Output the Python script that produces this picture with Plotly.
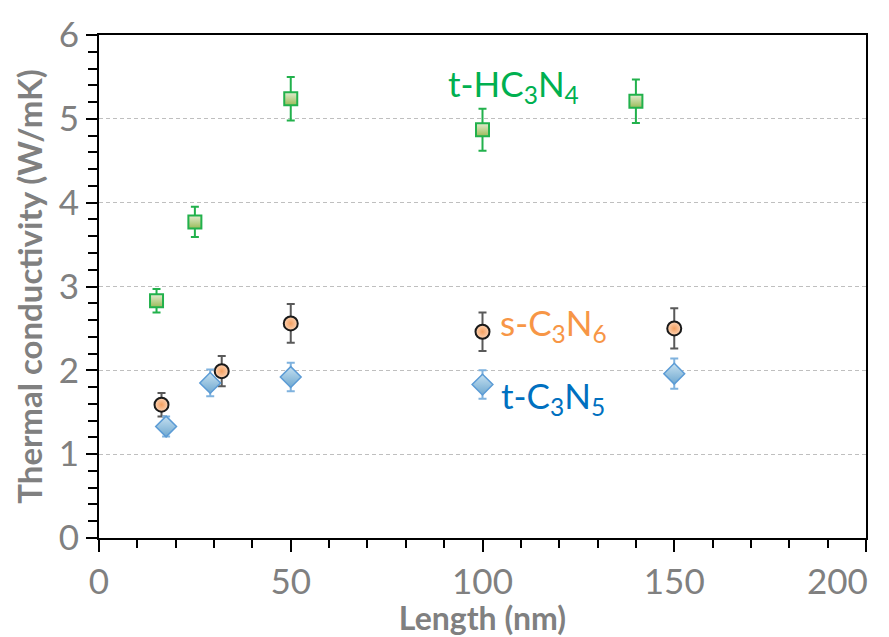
import plotly.graph_objects as go

# t-HC3N4 (green squares)
hc_x = [15, 25, 50, 100, 140]
hc_y = [2.83, 3.77, 5.24, 4.87, 5.21]
hc_err = [0.14, 0.18, 0.26, 0.25, 0.26]

# s-C3N6 (orange circles)
s_x = [16.3, 32, 50, 100, 150]
s_y = [1.59, 1.99, 2.56, 2.46, 2.50]
s_err = [0.14, 0.18, 0.23, 0.23, 0.24]

# t-C3N5 (blue diamonds)
t_x = [17.5, 29, 50, 100, 150]
t_y = [1.33, 1.85, 1.92, 1.83, 1.96]
t_err = [0.12, 0.16, 0.17, 0.17, 0.18]

labels = ["t-HC<sub>3</sub>N<sub>4</sub>", "s-C<sub>3</sub>N<sub>6</sub>", "t-C<sub>3</sub>N<sub>5</sub>"]
label_x = [108, 118.5, 118.5]
label_y = [5.40, 2.55, 1.68]
label_colors = ["#00B050", "#F79646", "#0070C0"]

x_ticks = [0, 50, 100, 150, 200]
x_ticktext = ["0", "50", "100", "150", ""]
y_ticks = [0, 1, 2, 3, 4, 5, 6]

FONT = "Lato"
TICKFONT = dict(family=FONT, size=35, color="#808080")

fig = go.Figure()

fig.add_trace(go.Scatter(
    x=hc_x, y=hc_y, mode="markers",
    error_y=dict(type="data", array=hc_err, color="#22B14C", thickness=2, width=4),
    marker=dict(symbol="square", size=13, color="#E2ECD0",
                gradient=dict(type="vertical", color="#9BBB59"),
                line=dict(color="#22B14C", width=2)),
    showlegend=False))

fig.add_trace(go.Scatter(
    x=s_x, y=s_y, mode="markers",
    error_y=dict(type="data", array=s_err, color="#595959", thickness=2, width=4),
    marker=dict(symbol="circle", size=14, color="#FCD3B5",
                gradient=dict(type="radial", color="#F4A060"),
                line=dict(color="#1A1A1A", width=2)),
    showlegend=False))

fig.add_trace(go.Scatter(
    x=t_x, y=t_y, mode="markers",
    error_y=dict(type="data", array=t_err, color="#7FB2DE", thickness=2, width=4),
    marker=dict(symbol="diamond", size=16, color="#C5E0F0",
                gradient=dict(type="vertical", color="#6FA8D0"),
                line=dict(color="#5B9BD5", width=1.5)),
    showlegend=False))

for txt, lx, ly, c in zip(labels, label_x, label_y, label_colors):
    fig.add_annotation(x=lx, y=ly, xref="x", yref="y", text=txt, showarrow=False,
                       font=dict(family=FONT, size=35, color=c))

# last x tick label, right-aligned so it stays inside the page
fig.add_annotation(x=x_ticks[-1], y=0, xref="x", yref="paper", text="200", showarrow=False,
                   xanchor="right", yanchor="top", yshift=-19, xshift=4, font=TICKFONT)

fig.update_xaxes(
    range=[0, 200], tickvals=x_ticks, ticktext=x_ticktext,
    showline=True, linecolor="black", linewidth=2, mirror=True,
    ticks="outside", ticklen=12, tickwidth=2, tickcolor="black",
    minor=dict(dtick=10, ticks="outside", ticklen=8, tickwidth=2, tickcolor="black", showgrid=False),
    showgrid=False, zeroline=False,
    tickfont=TICKFONT,
    title=dict(text="<b>Length (nm)</b>", font=dict(family=FONT, size=32, color="#808080"), standoff=2),
)
fig.update_yaxes(
    range=[0, 6], tickvals=y_ticks,
    showline=True, linecolor="black", linewidth=2, mirror=True,
    ticks="outside", ticklen=11, tickwidth=2, tickcolor="black",
    minor=dict(dtick=0.2, ticks="outside", ticklen=9, tickwidth=2, tickcolor="black", showgrid=False),
    showgrid=True, gridcolor="#BFBFBF", gridwidth=1, griddash="4px,3px",
    zeroline=False,
    tickfont=TICKFONT,
    title=dict(text="<b>Thermal conductivity (W/mK)</b>", font=dict(family=FONT, size=33, color="#808080"), standoff=6),
)

fig.update_layout(
    width=889, height=637,
    margin=dict(l=99, r=23, t=30, b=86),
    plot_bgcolor="white", paper_bgcolor="white",
)

fig.write_html("out.html")
